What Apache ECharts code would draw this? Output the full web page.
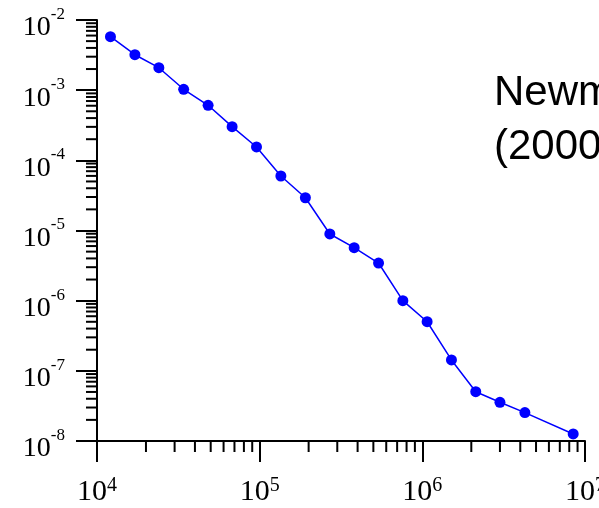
<!DOCTYPE html>
<html>
<head>
<meta charset="utf-8">
<style>
html,body{margin:0;padding:0;background:#fff;}
#chart{width:599px;height:508px;}
</style>
<script src="https://cdn.jsdelivr.net/npm/echarts@6/dist/echarts.min.js"></script>
</head>
<body>
<div id="chart"></div>
<script>
// Data
const xValues = [1.21e4, 1.71e4, 2.40e4, 3.41e4, 4.82e4, 6.77e4, 9.56e4, 1.35e5, 1.91e5, 2.70e5, 3.81e5, 5.38e5, 7.59e5, 1.07e6, 1.51e6, 2.13e6, 3.00e6, 4.27e6, 8.46e6];
const yValues = [5.78e-3, 3.20e-3, 2.09e-3, 1.03e-3, 6.09e-4, 3.02e-4, 1.55e-4, 5.98e-5, 2.93e-5, 8.92e-6, 5.69e-6, 3.44e-6, 1.00e-6, 5.01e-7, 1.43e-7, 5.04e-8, 3.56e-8, 2.54e-8, 1.26e-8];

// Axis ranges and ticks
const xMin = 1e4, xMax = 1e7;
const yMin = 1e-8, yMax = 1e-2;
const minorMultipliers = [2, 3, 4, 5, 6, 7, 8, 9];
const xDecades = [1e4, 1e5, 1e6];
const yDecades = [1e-8, 1e-7, 1e-6, 1e-5, 1e-4, 1e-3];
const annotationText = 'Newman\n(2000)';

const points = xValues.map((x, i) => [x, yValues[i]]);
const xMinor = [];
xDecades.forEach(d => minorMultipliers.forEach(m => xMinor.push([m * d, yMin])));
const yMinor = [];
yDecades.forEach(d => minorMultipliers.forEach(m => yMinor.push([xMin, m * d])));

const labelFmt = v => '{b|10}{s|' + Math.round(Math.log10(v)) + '}';

const chart = echarts.init(document.getElementById('chart'), null, {renderer: 'canvas'});
chart.setOption({
  animation: false,
  backgroundColor: '#ffffff',
  grid: {left: 97, right: 14, top: 20, bottom: 67, containLabel: false, outerBoundsMode: 'none'},
  xAxis: {
    type: 'log', min: xMin, max: xMax, logBase: 10,
    axisLine: {show: true, lineStyle: {color: '#000', width: 2}},
    axisTick: {show: true, inside: false, length: 21, lineStyle: {color: '#000', width: 2}},
    splitLine: {show: false},
    axisLabel: {
      margin: 32, formatter: labelFmt, color: '#000', fontFamily: 'Liberation Serif', fontSize: 30,
      hideOverlap: false,
      rich: {
        b: {fontFamily: 'Liberation Serif', fontSize: 30, lineHeight: 34, verticalAlign: 'bottom', color: '#000'},
        s: {fontFamily: 'Liberation Serif', fontSize: 20, verticalAlign: 'top', padding: [3, 0, 0, 0], color: '#000'}
      }
    }
  },
  yAxis: {
    type: 'log', min: yMin, max: yMax, logBase: 10,
    axisLine: {show: true, lineStyle: {color: '#000', width: 2}},
    axisTick: {show: true, inside: false, length: 21, lineStyle: {color: '#000', width: 2}},
    splitLine: {show: false},
    axisLabel: {
      margin: 32, formatter: labelFmt, color: '#000', fontFamily: 'Liberation Serif', fontSize: 28,
      hideOverlap: false,
      rich: {
        b: {fontFamily: 'Liberation Serif', fontSize: 28, lineHeight: 44, verticalAlign: 'bottom', color: '#000'},
        s: {fontFamily: 'Liberation Serif', fontSize: 17, verticalAlign: 'top', padding: [8, 0, 0, 0], color: '#000'}
      }
    }
  },
  graphic: [{
    type: 'text', left: 494, top: 66,
    style: {text: annotationText, font: '42px "Liberation Sans", Arial, sans-serif', fill: '#000', lineHeight: 54}
  }],
  series: [
    {
      type: 'line', data: points, symbol: 'circle', symbolSize: 11,
      itemStyle: {color: '#0000ff'}, lineStyle: {color: '#0000ff', width: 1.5},
      z: 5
    },
    {
      type: 'custom', data: xMinor, clip: false, silent: true, z: 3,
      renderItem: (params, api) => {
        const p = api.coord([api.value(0), api.value(1)]);
        return {type: 'line', shape: {x1: p[0], y1: p[1], x2: p[0], y2: p[1] + 11}, style: {stroke: '#000', lineWidth: 2}};
      }
    },
    {
      type: 'custom', data: yMinor, clip: false, silent: true, z: 3,
      renderItem: (params, api) => {
        const p = api.coord([api.value(0), api.value(1)]);
        return {type: 'line', shape: {x1: p[0] - 11, y1: p[1], x2: p[0], y2: p[1]}, style: {stroke: '#000', lineWidth: 2}};
      }
    }
  ]
});
</script>
</body>
</html>
